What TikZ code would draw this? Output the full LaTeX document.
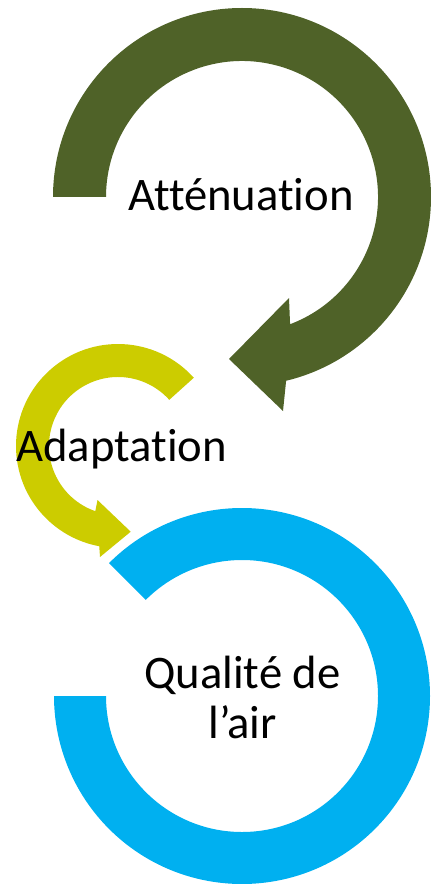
\documentclass[tikz,border=0pt]{standalone}
\usepackage{fontspec}
\setmainfont{Carlito}[Ligatures=NoCommon]
\usepackage{xcolor}
\usetikzlibrary{calc}
\definecolor{attgreen}{HTML}{4F6228}
\definecolor{adaptyellow}{HTML}{CCCC00}
\definecolor{airblue}{HTML}{00B0F0}

\begin{document}
\begin{tikzpicture}[x=0.75pt,y=-0.75pt,
        label text/.style={font=\fontsize{35}{37.5}\selectfont, inner sep=0pt, align=center}]
        \useasboundingbox (0,0) rectangle (430,884);

        \coordinate (attc) at (242,197);
        \coordinate (adac) at (118,446);
        \coordinate (airc) at (242,696);

        % Attenuation
        \fill [attgreen] ($(attc)+(180:189)$) arc[start angle=180, end angle=436.5, radius=189]
            -- (283,411) -- (229,359) -- (289,298) -- ($(attc)+(429.3:136)$)
            arc[start angle=429.3, end angle=180, radius=136] -- cycle;

        % Adaptation
        \fill [adaptyellow] ($(adac)+(-42:102)$) arc[start angle=-42, end angle=-259.4, radius=102]
            -- (100,557) -- (130.7,531.7) -- (97.5,500) -- ($(adac)+(-250.8:69)$)
            arc[start angle=-250.8, end angle=-42, radius=69] -- cycle;

        % Qualite de l'air
        \fill [airblue] ($(airc)+(225:188)$) arc[start angle=225, end angle=540, radius=188]
            -- ($(airc)+(540:136)$)
            arc[start angle=540, end angle=225, radius=136] -- cycle;

        \node [label text, anchor=base] (att) at (241,211) {Atténuation};
        \node [label text, anchor=base] (ada) at (121.5,461) {Adaptation};
        \node [label text, anchor=base] (air) at (242.5,738) {Qualité de\\l’air};

\end{tikzpicture}
\end{document}
